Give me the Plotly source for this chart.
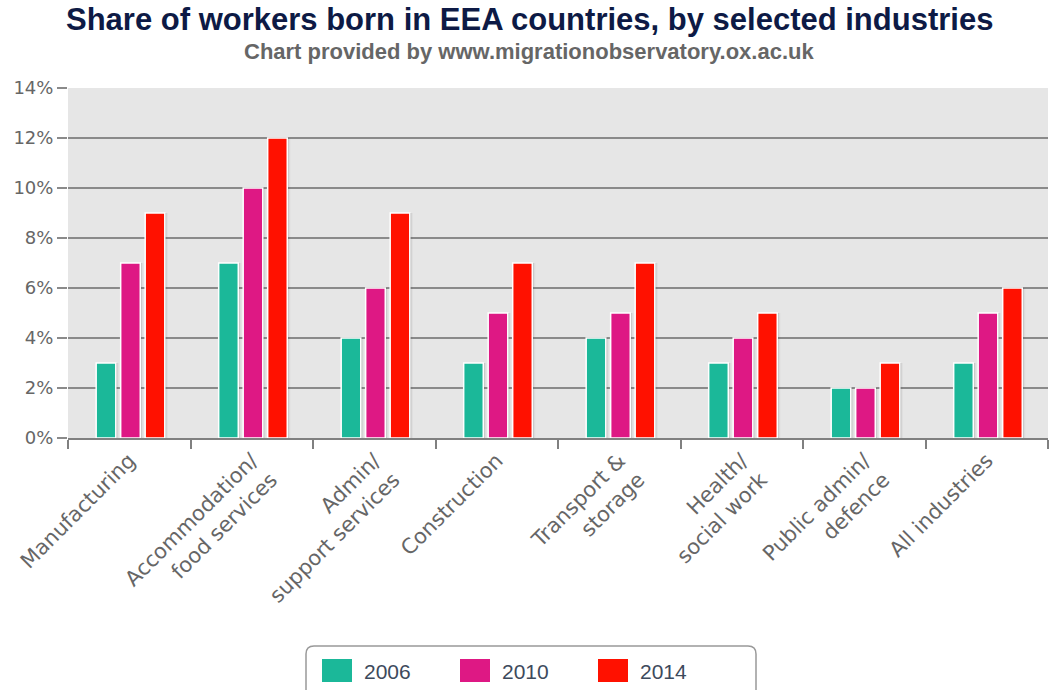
import plotly.graph_objects as go

# Industries on the x axis (line breaks as drawn)
industries = [
    "Manufacturing",
    "Accommodation/<br>food services",
    "Admin/<br>support services",
    "Construction",
    "Transport &<br>storage",
    "Health/<br>social work",
    "Public admin/<br>defence",
    "All industries",
]

# Share of workers born in EEA countries (%)
share_2006 = [3, 7, 4, 3, 4, 3, 2, 3]
share_2010 = [7, 10, 6, 5, 5, 4, 2, 5]
share_2014 = [9, 12, 9, 7, 7, 5, 3, 6]

years = ["2006", "2010", "2014"]
colors = ["#1bb899", "#de1884", "#ff1100"]
values_by_year = [share_2006, share_2010, share_2014]

# Plot area geometry (pixels)
W, H = 1058, 690
M_L, M_R, M_T, M_B = 68, 10, 88, 252
PW = W - M_L - M_R
PH = H - M_T - M_B

BAR_W = 0.16          # bar width in category units
BAR_STEP = 0.2        # distance between bars of a group
FIRST_OFFSET = -0.27  # left edge of first bar relative to category centre

fig = go.Figure()

# Soft drop shadows to the right of every bar
for i, values in enumerate(values_by_year):
    off = FIRST_OFFSET + i * BAR_STEP
    for dx, alpha in [(0.028, 0.06), (0.018, 0.12), (0.010, 0.22)]:
        fig.add_trace(go.Bar(
            x=industries, y=values,
            offset=off + dx - 0.004, width=BAR_W,
            marker=dict(color=f"rgba(60,60,60,{alpha})", line=dict(width=0)),
            hoverinfo="skip", showlegend=False,
        ))

# Bars
for i, (name, values, color) in enumerate(zip(years, values_by_year, colors)):
    fig.add_trace(go.Bar(
        name=name,
        x=industries,
        y=values,
        offset=FIRST_OFFSET + i * BAR_STEP,
        width=BAR_W,
        marker=dict(color=color, line=dict(color="white", width=1.5)),
        hovertemplate="%{x}: %{y}%<extra>" + name + "</extra>",
        showlegend=False,
    ))


def px_x(p):
    return (p - M_L) / PW


def px_y(p):
    return (H - M_B - p) / PH


shapes = []
annotations = []

# Legend box with rounded corners
x0, x1, y0, y1, r = 306, 756, 646, 700, 8
path = (
    f"M {px_x(x0)} {px_y(y1)} L {px_x(x0)} {px_y(y0 + r)} "
    f"Q {px_x(x0)} {px_y(y0)} {px_x(x0 + r)} {px_y(y0)} "
    f"L {px_x(x1 - r)} {px_y(y0)} "
    f"Q {px_x(x1)} {px_y(y0)} {px_x(x1)} {px_y(y0 + r)} "
    f"L {px_x(x1)} {px_y(y1)}"
)
shapes.append(dict(type="path", xref="paper", yref="paper", path=path,
                   line=dict(color="#999999", width=1.5), fillcolor="white"))

# Legend entries
legend_x = [322, 460, 598]
for lx, name, color in zip(legend_x, years, colors):
    shapes.append(dict(
        type="rect", xref="paper", yref="paper",
        x0=px_x(lx), x1=px_x(lx + 30), y0=px_y(682), y1=px_y(659),
        fillcolor=color, line=dict(width=0), layer="above",
    ))
    annotations.append(dict(
        text=name, xref="paper", yref="paper",
        x=px_x(lx + 40), y=px_y(671), xanchor="left", yanchor="middle",
        showarrow=False,
        font=dict(family="Liberation Sans, Arial, sans-serif", size=21, color="#3d4a5c"),
    ))

# Title and subtitle, centred on the page
annotations.append(dict(
    text="<b>Share of workers born in EEA countries, by selected industries</b>",
    x=px_x(W / 2), xref="paper", xanchor="center",
    y=px_y(19), yref="paper", yanchor="middle",
    showarrow=False,
    font=dict(family="Liberation Sans, Arial, sans-serif", size=31, color="#0d1a45"),
))
annotations.append(dict(
    text="<b>Chart provided by www.migrationobservatory.ox.ac.uk</b>",
    x=px_x(W / 2), xref="paper", xanchor="center",
    y=px_y(51), yref="paper", yanchor="middle",
    showarrow=False,
    font=dict(family="Liberation Sans, Arial, sans-serif", size=22, color="#666666"),
))

fig.update_layout(
    width=W,
    height=H,
    margin=dict(l=M_L, r=M_R, t=M_T, b=M_B),
    paper_bgcolor="white",
    plot_bgcolor="#e6e6e6",
    barmode="overlay",
    font=dict(family="DejaVu Sans, Verdana, sans-serif", color="#666666"),
    showlegend=False,
    shapes=shapes,
    annotations=annotations,
)

fig.update_xaxes(
    tickangle=-45,
    tickson="boundaries",
    ticks="outside",
    ticklen=9,
    tickwidth=2,
    tickcolor="#808080",
    showline=True,
    linecolor="#808080",
    linewidth=2,
    showgrid=False,
    automargin=False,
    tickfont=dict(size=21, color="#666666"),
)
fig.update_yaxes(
    range=[0, 14],
    dtick=2,
    ticksuffix="%",
    showgrid=True,
    gridcolor="#8a8a8a",
    gridwidth=1.5,
    zeroline=False,
    ticks="outside",
    ticklen=10,
    tickcolor="#8a8a8a",
    tickwidth=1.5,
    automargin=False,
    tickfont=dict(size=18, color="#666666"),
    fixedrange=True,
)

fig.write_html("out.html")
